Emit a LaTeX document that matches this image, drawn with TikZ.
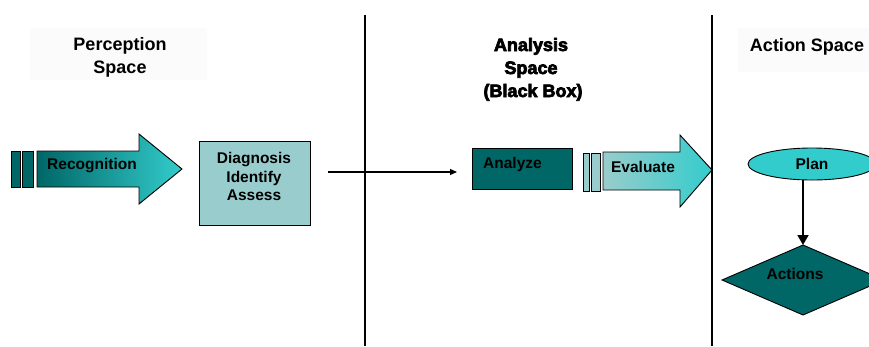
\documentclass[tikz,border=0pt]{standalone}
\usepackage{fontspec}
\setmainfont{Liberation Sans}
\newfontfamily\heavyfont[FakeBold=4]{Liberation Sans Bold}
\usetikzlibrary{arrows.meta,shapes.geometric}
\definecolor{darkteal}{RGB}{0,102,102}
\definecolor{turq}{RGB}{51,204,204}
\definecolor{lightteal}{RGB}{153,204,204}
\definecolor{haze}{RGB}{251,251,251}
\begin{document}
\begin{tikzpicture}[x=1pt,y=-1pt,
  txt/.style={font=\bfseries\fontsize{15.5}{18}\selectfont, inner sep=0pt, anchor=base},
  hdr/.style={font=\bfseries\fontsize{18}{22}\selectfont, inner sep=0pt, anchor=base},
  heavy/.style={font=\heavyfont\fontsize{18}{22}\selectfont, inner sep=0pt, anchor=base},
  outline/.style={draw=black, line width=0.9pt},
  divider/.style={line width=1.8pt},
  conn/.style={line width=1.2pt, -{Triangle[length=7pt,width=6pt]}},
  plantoact/.style={line width=1.8pt, -{Triangle[length=10pt,width=11pt]}}]
\useasboundingbox (0,0) rectangle (869,346);
\clip (0,0) rectangle (869,346);
\fill[white] (0,0) rectangle (869,346);

% faint header panels
\fill[haze] (30,28) rectangle (207,80);
\fill[haze] (738,28) rectangle (869,72);

% section dividers
\coordinate (d1top) at (365,15); \coordinate (d1bot) at (365,346);
\coordinate (d2top) at (712,15); \coordinate (d2bot) at (712,346);
\draw[divider] (d1top) -- (d1bot);
\draw[divider] (d2top) -- (d2bot);

% headers
\node[hdr] (perc1) at (120,50) {Perception};
\node[hdr] (perc2) at (120,73) {Space};
\node[heavy] (ana1) at (531,51) {Analysis};
\node[heavy] (ana2) at (531,74) {Space};
\node[heavy] (ana3) at (533,97) {(Black Box)};
\node[hdr] (act1) at (807,51) {Action Space};

% Recognition arrow
\filldraw[outline, fill=darkteal] (11,151) rectangle (20,187);
\filldraw[outline, fill=darkteal] (22,151) rectangle (33,187);
\shadedraw[outline, left color=darkteal, right color=turq]
  (37,151) -- (139,151) -- (139,134) -- (182,169) -- (139,204) -- (139,187) -- (37,187) -- cycle;
\node[txt] (recog) at (92,169) {Recognition};

% Diagnosis box
\filldraw[outline, fill=lightteal] (199,141) rectangle (310,225);
\node[txt] (diag1) at (254,163) {Diagnosis};
\node[txt] (diag2) at (254,182) {Identify};
\node[txt] (diag3) at (254,200) {Assess};

% connector into the analysis space
\coordinate (cfrom) at (328,172);
\coordinate (cto) at (457,172);
\draw[conn] (cfrom) -- (cto);

% Analyze box
\filldraw[outline, fill=darkteal] (472,148) rectangle (572,189);
\node[txt, anchor=base west] (analyze) at (483,168) {Analyze};

% Evaluate arrow
\filldraw[outline, fill=lightteal] (583,153) rectangle (589,191);
\filldraw[outline, fill=lightteal] (591,153) rectangle (600,191);
\shadedraw[outline, left color=lightteal, right color=turq]
  (603,152) -- (680,152) -- (680,135) -- (712,170) -- (680,207) -- (680,190) -- (603,190) -- cycle;
\node[txt] (evaluate) at (643,172) {Evaluate};

% Plan and Actions
\node[ellipse, outline, fill=turq, minimum width=128pt, minimum height=32pt,
      inner sep=0pt, font=\bfseries\fontsize{15.5}{18}\selectfont] (plan) at (812,164) {Plan};
\filldraw[outline, fill=darkteal] (722,280) -- (803,245) -- (884,280) -- (803,315) -- cycle;
\coordinate (acttop) at (803,245);
\node[txt] (actions) at (795,279) {Actions};
\draw[plantoact] (plan.south -| acttop) -- (acttop);
\end{tikzpicture}
\end{document}
